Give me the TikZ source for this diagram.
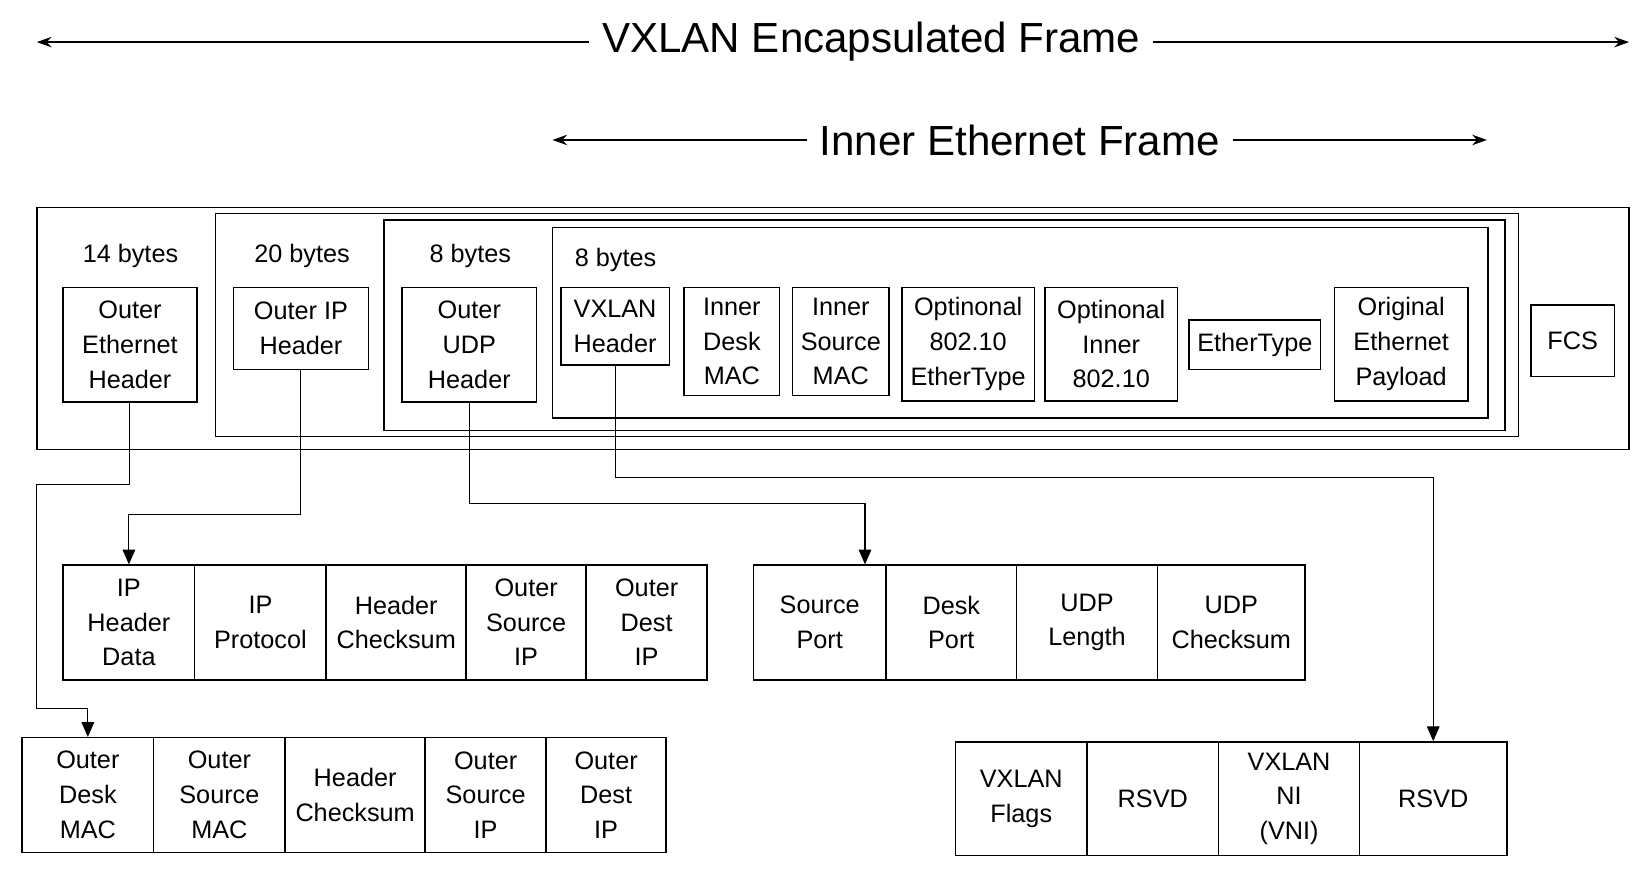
\documentclass[tikz,border=0pt]{standalone}
\usepackage{fontspec}
\setmainfont{Liberation Sans}
\usetikzlibrary{arrows.meta}
\begin{document}
\begin{tikzpicture}
		[x=0.5pt,y=-0.5pt,
		fld/.style={rectangle,draw,line width=0.7pt,inner sep=0pt,align=center,
font=\fontsize{12}{16.5}\selectfont},
		bytes/.style={font=\fontsize{12}{14}\selectfont},
		title/.style={font=\fontsize{20}{24}\selectfont,inner sep=6pt},
		wire/.style={line width=0.5pt,-{Triangle[width=6pt,length=7pt]}},
		span/.style={line width=0.6pt,{Stealth[length=7pt,width=5pt]}-{Stealth[length=7pt,width=5pt]}}]
		\useasboundingbox (0,0) rectangle (1568,831);
		% titles
		\node (vx) at (828,40) [title] {VXLAN Encapsulated Frame};
		\coordinate (vl) at (35,40);
		\coordinate (vr) at (1548,40);
		\draw[line width=0.6pt,{Stealth[length=7pt,width=5pt]}-] (vl) -- (vx.west);
		\draw[line width=0.6pt,-{Stealth[length=7pt,width=5pt]}] (vx.east) -- (vr);
		\node (ie) at (969,133) [title] {Inner Ethernet Frame};
		\coordinate (il) at (525,133);
		\coordinate (ir) at (1413,133);
		\draw[line width=0.6pt,{Stealth[length=7pt,width=5pt]}-] (il) -- (ie.west);
		\draw[line width=0.6pt,-{Stealth[length=7pt,width=5pt]}] (ie.east) -- (ir);
		% nested frames
		\draw[line width=0.7pt] (35,197) rectangle (1548,427);
		\draw[line width=0.7pt] (205,203) rectangle (1443,415);
		\draw[line width=0.7pt] (365,209) rectangle (1430,409);
		\draw[line width=0.7pt] (525,216) rectangle (1414,397);
		\node (b14) at (124,243) [bytes] {14 bytes};
		\node (b20) at (287,243) [bytes] {20 bytes};
		\node (b8a) at (447,243) [bytes] {8 bytes};
		\node (b8b) at (585,247) [bytes] {8 bytes};
		% header fields
		\node (oeh) at (123.5,327.5) [fld,minimum width=63.5pt,minimum height=54.5pt] {Outer\\Ethernet\\Header};
		\node (oip) at (286,312) [fld,minimum width=64pt,minimum height=39pt] {Outer IP\\Header};
		\node (udp) at (446,327.5) [fld,minimum width=64pt,minimum height=54.5pt] {Outer\\UDP\\Header};
		\node (vxh) at (584.5,310) [fld,minimum width=51.5pt,minimum height=37pt] {VXLAN\\Header};
		\node (idm) at (695.5,324.5) [fld,minimum width=45.5pt,minimum height=51.5pt] {Inner\\Desk\\MAC};
		\node (ism) at (799,324.5) [fld,minimum width=46pt,minimum height=51.5pt] {Inner\\Source\\MAC};
		\node (o8e) at (920,327) [fld,minimum width=63pt,minimum height=54pt] {Optinonal\\802.10\\EtherType};
		\node (oi8) at (1056,327) [fld,minimum width=63pt,minimum height=54pt] {Optinonal\\Inner\\802.10};
		\node (ety) at (1192.5,327.5) [fld,minimum width=62.5pt,minimum height=23.5pt] {EtherType};
		\node (oep) at (1331.5,327) [fld,minimum width=63.5pt,minimum height=54pt] {Original\\Ethernet\\Payload};
		\node (fcs) at (1494.5,324) [fld,minimum width=39.5pt,minimum height=34pt] {FCS};
		% outer IP fields
		\node (ihd) at (122.5,591.5) [fld,minimum width=62.5pt,minimum height=54.5pt] {IP\\Header\\Data};
		\node (ipp) at (247.5,591.5) [fld,minimum width=62.5pt,minimum height=54.5pt] {IP\\Protocol};
		\node (ihc) at (376.5,591.5) [fld,minimum width=66.5pt,minimum height=54.5pt] {Header\\Checksum};
		\node (isi) at (500,591.5) [fld,minimum width=57pt,minimum height=54.5pt] {Outer\\Source\\IP};
		\node (idi) at (614.5,591.5) [fld,minimum width=57.5pt,minimum height=54.5pt] {Outer\\Dest\\IP};
		% UDP fields
		\node (srcp) at (779,591.5) [fld,minimum width=63pt,minimum height=54.5pt] {Source\\Port};
		\node (dstp) at (904,591.5) [fld,minimum width=62pt,minimum height=54.5pt] {Desk\\Port};
		\node (ulen) at (1033,591.5) [fld,minimum width=67pt,minimum height=54.5pt] {UDP\\Length};
		\node (uchk) at (1170,591.5) [fld,minimum width=70pt,minimum height=54.5pt] {UDP\\Checksum};
		% outer ethernet fields
		\node (odm) at (83.5,755.5) [fld,minimum width=62.5pt,minimum height=54.5pt] {Outer\\Desk\\MAC};
		\node (osm) at (208.5,755.5) [fld,minimum width=62.5pt,minimum height=54.5pt] {Outer\\Source\\MAC};
		\node (ehc) at (337.5,755.5) [fld,minimum width=66.5pt,minimum height=54.5pt] {Header\\Checksum};
		\node (esi) at (461.5,755.5) [fld,minimum width=57.5pt,minimum height=54.5pt] {Outer\\Source\\IP};
		\node (edi) at (576,755.5) [fld,minimum width=57pt,minimum height=54.5pt] {Outer\\Dest\\IP};
		% VXLAN fields
		\node (vfl) at (970.5,759) [fld,minimum width=62.5pt,minimum height=54pt] {VXLAN\\Flags};
		\node (rsv1) at (1095.5,759) [fld,minimum width=62.5pt,minimum height=54pt] {RSVD};
		\node (vni) at (1225,759) [fld,minimum width=67pt,minimum height=54pt] {VXLAN\\NI\\(VNI)};
		\node (rsv2) at (1362,759) [fld,minimum width=70pt,minimum height=54pt] {RSVD};
		% connectors
		\coordinate (e1) at (35,460);
		\coordinate (e2) at (35,673);
		\draw[wire] (oeh.south) |- (e1) -- (e2) -| (odm.north);
		\draw[wire] (oip.south) -- ++(0,137) -| (ihd.north);
		\draw[wire] (udp.south) -- ++(0,96) -| ([xshift=21.5pt]srcp.north);
		\draw[wire] (vxh.south) -- ++(0,106) -| (rsv2.north);
	\end{tikzpicture}
\end{document}
